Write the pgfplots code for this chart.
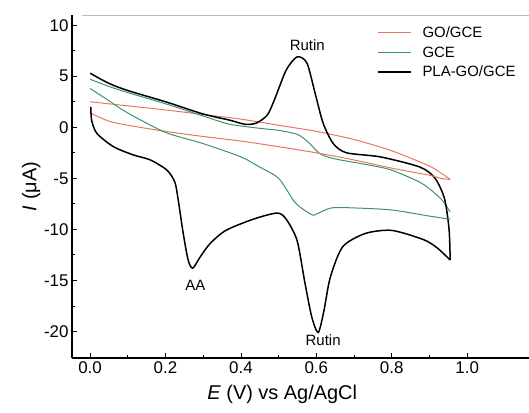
\documentclass[border=0pt]{standalone}
\usepackage{fontspec}
\setmainfont{Liberation Sans}
\usepackage{pgfplots}
\pgfplotsset{compat=1.18}

\definecolor{goRed}{RGB}{228,120,100}
\definecolor{gceGreen}{RGB}{60,145,115}

\begin{document}
\begin{tikzpicture}
\begin{axis}[
    width=457bp, height=343bp, scale only axis,
    xmin=-0.048, xmax=1.164, ymin=-22.6, ymax=11,
    axis x line*=bottom, axis y line*=left,
    axis line style={line width=1.1bp},
    xtick={0,0.2,0.4,0.6,0.8,1.0}, ytick={-20,-15,-10,-5,0,5,10},
    minor x tick num=1, minor y tick num=1,
    tick align=inside,
    major tick length=5bp, minor tick length=3bp,
    tick style={black, line width=0.8bp},
    /pgf/number format/assume math mode=true,
    xticklabel style={/pgf/number format/fixed, /pgf/number format/fixed zerofill, /pgf/number format/precision=1},
    ticklabel style={font=\fontsize{17}{19}\selectfont},
    xlabel={\textit{E} (V) vs Ag/AgCl},
    ylabel={\textit{I} (μA)},
    label style={font=\fontsize{20}{22}\selectfont},
    xlabel style={at={(axis description cs:0.46,0)}, anchor=north, yshift=-24bp},
    ylabel style={at={(axis description cs:0,0.5)}, anchor=south, yshift=28bp},
    legend style={at={(rel axis cs:0.667,0.972)}, anchor=north west, draw=none, fill=none,
        inner sep=0pt, font=\fontsize{15}{16}\selectfont, row sep=3.5bp,
        /tikz/every odd column/.append style={column sep=9bp}},
    legend cell align=left,
    legend image code/.code={\draw[#1] (0bp,0bp) -- (33bp,0bp);},
    smooth, tension=0.45,
    clip=false,
]
\coordinate (sw) at (rel axis cs:0,0);
\coordinate (ne) at (rel axis cs:1,1);
\draw[gray!55, line width=0.8bp] (rel axis cs:0.022,1) -- (rel axis cs:1,1);

% GO/GCE
\addplot[goRed, line width=1bp] coordinates {
 (0,2.5) (0.1,2.1) (0.2,1.7) (0.3,1.25) (0.4,0.8) (0.5,0.2) (0.6,-0.4) (0.7,-1.2)
 (0.8,-2.3) (0.9,-3.8) (0.935,-4.6) (0.955,-5.1)};
\addlegendentry{GO/GCE}
% GCE
\addplot[gceGreen, line width=1bp] coordinates {
 (0,4.7) (0.05,4.0) (0.1,3.4) (0.2,2.3) (0.3,1.1) (0.37,0.3) (0.45,-0.1) (0.5,-0.3)
 (0.55,-0.7) (0.58,-1.5) (0.61,-2.6) (0.65,-3.1) (0.74,-3.7) (0.8,-4.2) (0.88,-5.5)
 (0.93,-7.0) (0.955,-8.3)};
\addlegendentry{GCE}
% PLA-GO/GCE
\addplot[black, line width=1.5bp] coordinates {
 (0,5.3) (0.05,4.3) (0.1,3.6) (0.2,2.5) (0.3,1.3) (0.37,0.7) (0.41,0.3) (0.44,0.4)
 (0.47,1.2) (0.49,2.8) (0.52,5.6) (0.549,6.9) (0.575,6.3) (0.597,3.3) (0.618,0.4)
 (0.645,-1.6) (0.68,-2.5) (0.77,-2.9) (0.875,-3.9) (0.915,-5.0) (0.94,-7.0) (0.952,-10.0) (0.955,-13.0)};
\addlegendentry{PLA-GO/GCE}

% return branches
\addplot[goRed, line width=1bp, forget plot] coordinates {
 (0.955,-5.1) (0.93,-5.0) (0.9,-4.7) (0.8,-4.0) (0.7,-3.2) (0.6,-2.5) (0.5,-1.9)
 (0.4,-1.35) (0.3,-0.9) (0.2,-0.4) (0.1,0.2) (0.05,0.6) (0,1.4)};
\addplot[gceGreen, line width=1bp, forget plot] coordinates {
 (0.955,-9.0) (0.9,-8.7) (0.8,-8.1) (0.7,-7.9) (0.64,-7.9) (0.6,-8.5) (0.59,-8.6)
 (0.56,-7.9) (0.54,-7.2) (0.5,-5.0) (0.45,-3.9) (0.4,-2.9) (0.3,-1.6) (0.2,-0.5)
 (0.1,1.4) (0.05,2.6) (0,3.8)};
\addplot[black, line width=1.5bp, forget plot] coordinates {
 (0.955,-13.0) (0.92,-11.8) (0.884,-11.0) (0.80,-10.1) (0.73,-10.4) (0.67,-11.7)
 (0.637,-14.7) (0.62,-18.0) (0.605,-20.1) (0.588,-18.6) (0.57,-15.3) (0.549,-11.1)
 (0.52,-9.0) (0.496,-8.4) (0.433,-9.0) (0.36,-10.1) (0.318,-11.4) (0.292,-12.7)
 (0.272,-13.8) (0.26,-13.0) (0.247,-10.4) (0.234,-7.2) (0.225,-5.4) (0.204,-4.2)
 (0.16,-3.2) (0.114,-2.7) (0.062,-1.9) (0.018,-0.6) (0.004,0.7) (0.002,2.0)};

\node[font=\fontsize{15}{16}\selectfont] at (axis cs:0.576,8.0) {Rutin};
\node[font=\fontsize{15}{16}\selectfont] at (axis cs:0.279,-15.5) {AA};
\node[font=\fontsize{15}{16}\selectfont] at (axis cs:0.618,-20.9) {Rutin};
\end{axis}
\pgfresetboundingbox
\path[use as bounding box] ([xshift=-72bp,yshift=-55bp]sw) rectangle ([yshift=15bp]ne);
\end{tikzpicture}
\end{document}
